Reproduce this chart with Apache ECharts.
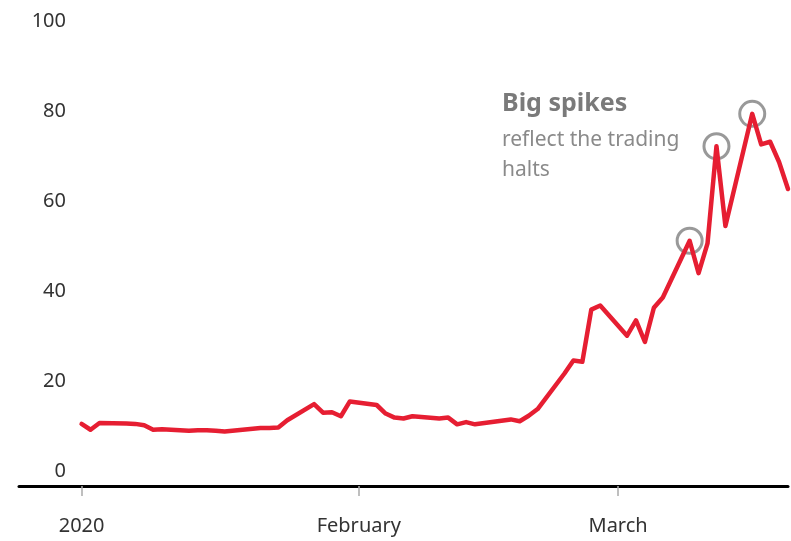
<!DOCTYPE html>
<html>
<head>
<meta charset="utf-8">
<script src="https://cdn.jsdelivr.net/npm/echarts@6/dist/echarts.min.js"></script>
<style>
  html, body { margin: 0; padding: 0; background: #fff; }
  #main { width: 791px; height: 541px; }
</style>
</head>
<body>
<div id="main"></div>
<script>
// trading days (first point sits on the 2020 tick)
var dates = [
  '2020-01-01','2020-01-02','2020-01-03','2020-01-06','2020-01-07','2020-01-08','2020-01-09','2020-01-10',
  '2020-01-13','2020-01-14','2020-01-15','2020-01-16','2020-01-17','2020-01-21','2020-01-22','2020-01-23',
  '2020-01-24','2020-01-27','2020-01-28','2020-01-29','2020-01-30','2020-01-31',
  '2020-02-03','2020-02-04','2020-02-05','2020-02-06','2020-02-07','2020-02-10','2020-02-11','2020-02-12',
  '2020-02-13','2020-02-14','2020-02-18','2020-02-19','2020-02-20','2020-02-21','2020-02-24','2020-02-25',
  '2020-02-26','2020-02-27','2020-02-28',
  '2020-03-02','2020-03-03','2020-03-04','2020-03-05','2020-03-06','2020-03-09','2020-03-10','2020-03-11',
  '2020-03-12','2020-03-13','2020-03-16','2020-03-17','2020-03-18','2020-03-19','2020-03-20'
];
var values = [
  13.8, 12.5, 14.0, 13.9, 13.8, 13.5, 12.5, 12.6,
  12.3, 12.4, 12.4, 12.3, 12.1, 12.9, 12.9, 13.0,
  14.6, 18.2, 16.3, 16.4, 15.5, 18.8,
  18.0, 16.1, 15.2, 15.0, 15.5, 15.0, 15.2, 13.7,
  14.2, 13.7, 14.8, 14.4, 15.6, 17.1, 25.0, 27.9,
  27.6, 39.2, 40.1,
  33.4, 36.8, 32.0, 39.6, 41.9, 54.5, 47.3, 53.9,
  75.5, 57.8, 82.7, 75.9, 76.5, 72.0, 66.0
];
// days with trading halts (circled)
var haltDates = ['2020-03-09', '2020-03-12', '2020-03-16'];

// x tick labels
var tickDates = ['2020-01-01', '2020-02-01', '2020-03-01'];
var tickLabels = ['2020', 'February', 'March'];
var yTicks = [0, 20, 40, 60, 80, 100];

var t0 = Date.parse('2020-01-01');
function dayOf(d) { return Math.round((Date.parse(d) - t0) / 86400000); }

var lineData = dates.map(function (d, i) { return [dayOf(d), values[i]]; });
var haltData = haltDates.map(function (d) { return [dayOf(d), values[dates.indexOf(d)]]; });
var tickDays = tickDates.map(dayOf);

var myChart = echarts.init(document.getElementById('main'));

var option = {
  animation: false,
  grid: { left: 19, right: 3, top: 36, bottom: 55, containLabel: false, outerBoundsMode: 'none' },
  xAxis: {
    type: 'value',
    min: -7,
    max: 79,
    splitLine: { show: false },
    axisLine: { show: true, lineStyle: { color: '#000', width: 3 } },
    axisTick: {
      show: true,
      customValues: tickDays,
      length: 10,
      lineStyle: { color: '#aaa', width: 1.5 }
    },
    axisLabel: {
      customValues: tickDays,
      margin: 30,
      fontFamily: 'Noto Sans',
      fontSize: 20,
      color: '#333',
      formatter: function (v) {
        var i = tickDays.indexOf(v);
        return i >= 0 ? tickLabels[i] : '';
      }
    }
  },
  yAxis: {
    type: 'value',
    min: 0,
    max: 100,
    interval: 20,
    axisLine: { show: false },
    axisTick: { show: false },
    splitLine: { show: false },
    axisLabel: {
      inside: true,
      margin: 47,
      align: 'right',
      verticalAlign: 'bottom',
      lineHeight: 20,
      padding: [0, 0, 5, 0],
      fontFamily: 'Noto Sans',
      fontSize: 20,
      color: '#333',
      formatter: function (v) { return yTicks.indexOf(v) >= 0 ? String(v) : ''; }
    }
  },
  series: [
    {
      type: 'scatter',
      data: haltData,
      symbol: 'circle',
      symbolSize: 25,
      z: 1,
      itemStyle: { color: 'rgba(0,0,0,0)', borderColor: '#808080', borderWidth: 3 }
    },
    {
      type: 'line',
      data: lineData,
      showSymbol: false,
      z: 2,
      lineStyle: { color: '#e61e32', width: 4.5, join: 'round', cap: 'round' }
    }
  ],
  graphic: [
    {
      type: 'text', left: 502, top: 91,
      style: { text: 'Big spikes', font: 'bold 25px "Noto Sans"', fill: '#7a7a7a' }
    },
    {
      type: 'text', left: 502, top: 130,
      style: { text: 'reflect the trading', font: '21px "Noto Sans"', fill: '#8a8a8a' }
    },
    {
      type: 'text', left: 502, top: 160,
      style: { text: 'halts', font: '21px "Noto Sans"', fill: '#8a8a8a' }
    }
  ]
};

myChart.setOption(option);
</script>
</body>
</html>
